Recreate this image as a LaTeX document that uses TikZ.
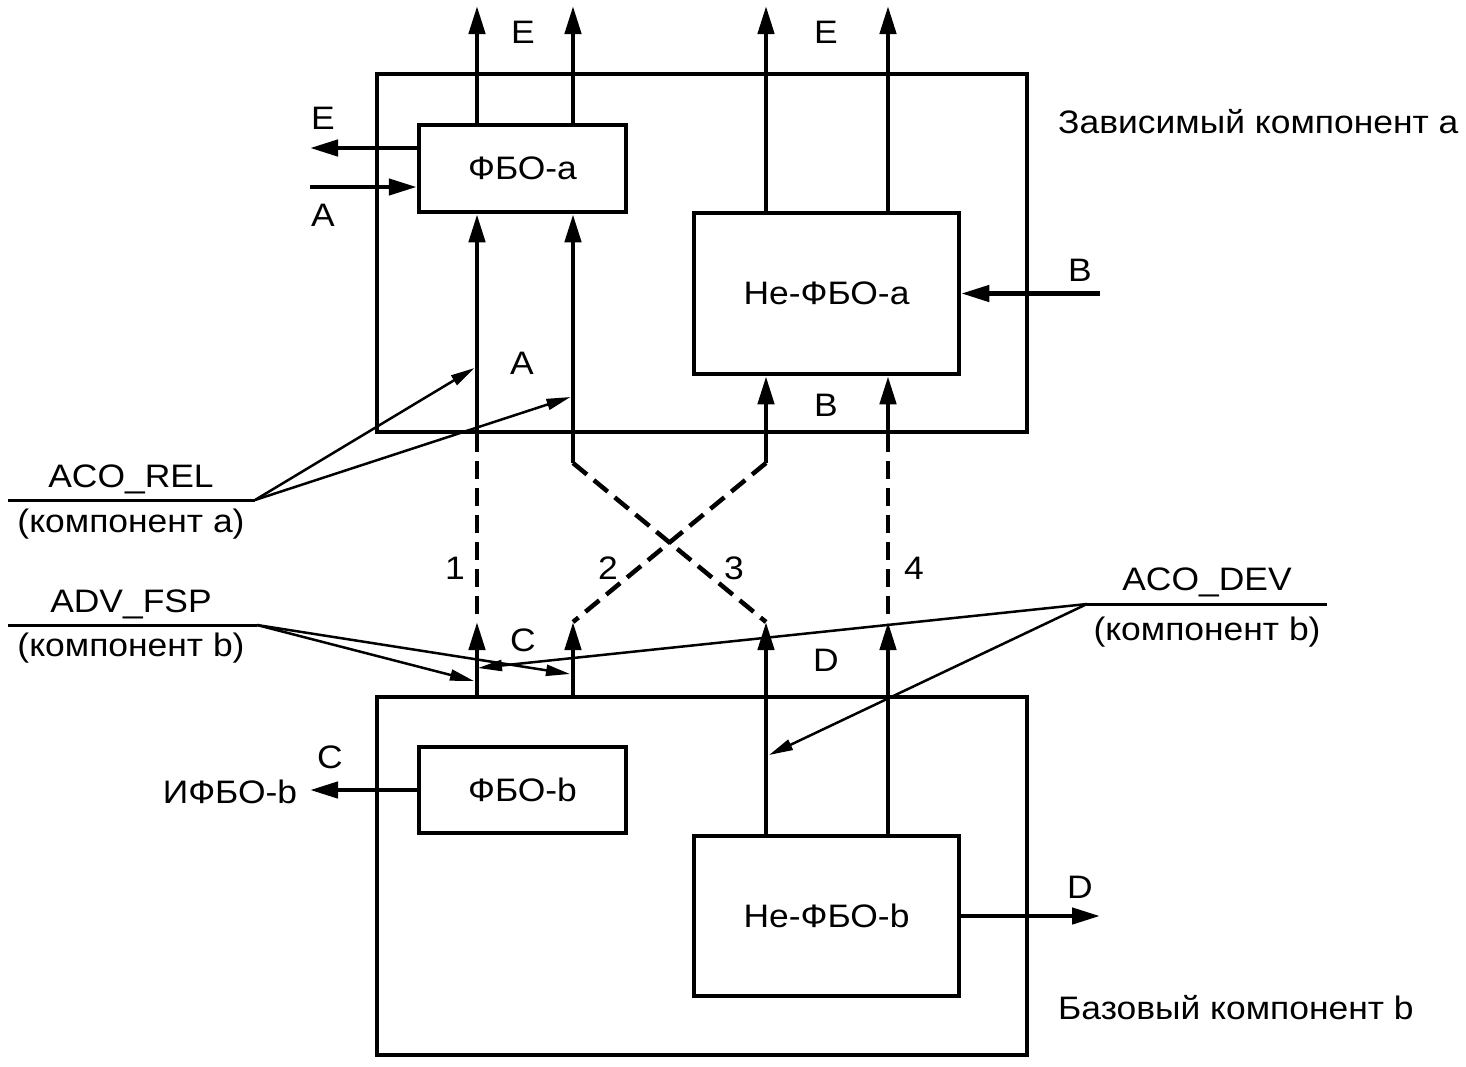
\documentclass[tikz,border=0pt]{standalone}
\usepackage{fontspec}
\setmainfont{Liberation Sans}[FakeStretch=1.09]
\usetikzlibrary{arrows.meta}
\begin{document}
\begin{tikzpicture}[x=1pt,y=-1pt,
  every node/.style={font=\fontsize{32.5}{38}\selectfont, inner sep=0pt},
  box/.style={draw, line width=4.5pt, inner sep=0pt},
  heavy/.style={line width=4.5pt},
  harrow/.style={heavy, -{Triangle[length=28pt,width=16pt]}},
  thinarrow/.style={line width=2.5pt, -{Triangle[length=24pt,width=11pt]}},
  uline/.style={line width=3pt},
  dashline/.style={heavy, dash pattern=on 18pt off 9pt}]
\useasboundingbox (0,0) rectangle (1466,1066);

% boxes
\node[box, minimum width=650pt, minimum height=358pt] (compa) at (702,253) {};
\node[box, minimum width=207pt, minimum height=87pt] (fboa) at (522.5,168.5) {ФБО-а};
\node[box, minimum width=265pt, minimum height=161pt] (nfboa) at (826.5,293.5) {Не-ФБО-а};
\node[box, minimum width=650pt, minimum height=358pt] (compb) at (702,876) {};
\node[box, minimum width=207pt, minimum height=86pt] (fbob) at (522.5,790) {ФБО-b};
\node[box, minimum width=265pt, minimum height=160pt] (nfbob) at (826.5,916) {Не-ФБО-b};

% free ends
\coordinate (e1) at (477,6);
\coordinate (e2) at (573,6);
\coordinate (e3) at (766,6);
\coordinate (e4) at (888,6);
\coordinate (eL) at (310,148);
\coordinate (aL) at (310,187);
\coordinate (bR) at (1100,293.5);
\coordinate (k2) at (573,463);
\coordinate (k3) at (766,463);
\coordinate (t1) at (477,622);
\coordinate (t2) at (573,622);
\coordinate (t3) at (766,622);
\coordinate (t4) at (888,622);
\coordinate (d1) at (477,617);
\coordinate (d4) at (888,617);
\coordinate (iL) at (310,790);
\coordinate (dR) at (1100,916);

% top outputs
\draw[harrow] (fboa.north -| e1) -- (e1);
\draw[harrow] (fboa.north -| e2) -- (e2);
\draw[harrow] (nfboa.north -| e3) -- (e3);
\draw[harrow] (nfboa.north -| e4) -- (e4);
\draw[harrow] (fboa.west |- eL) -- (eL);
\draw[harrow] (aL) -- (fboa.west |- aL);
\draw[harrow] (bR) -- (nfboa.east);

% inputs from below
\draw[harrow] (compa.south -| e1) -- (fboa.south -| e1);
\draw[harrow] (k2) -- (fboa.south -| k2);
\draw[harrow] (k3) -- (nfboa.south -| k3);
\draw[harrow] (compa.south -| e4) -- (nfboa.south -| e4);

% dashed links
\draw[dashline] (compa.south -| e1) -- (d1);
\draw[dashline] (k2) -- (t3);
\draw[dashline] (k3) -- (t2);
\draw[dashline] (compa.south -| e4) -- (d4);

% bottom outputs up
\draw[harrow] (compb.north -| t1) -- (t1);
\draw[harrow] (compb.north -| t2) -- (t2);
\draw[harrow] (nfbob.north -| t3) -- (t3);
\draw[harrow] (nfbob.north -| t4) -- (t4);
\draw[harrow] (fbob.west) -- (iL);
\draw[harrow] (nfbob.east) -- (dR);

% labels
\node (lE1) at (523,32) {E};
\node (lE2) at (826,32) {E};
\node (lE3) at (323,118) {E};
\node (lA1) at (323,215) {A};
\node (lB1) at (1080,270) {B};
\node (lA2) at (522,363) {A};
\node (lB2) at (826,405) {B};
\node (n1) at (455,568) {1};
\node (n2) at (608,568) {2};
\node (n3) at (734,568) {3};
\node (n4) at (914,568) {4};
\node (lC1) at (523,640) {C};
\node (lD1) at (826,660) {D};
\node (lC2) at (330,757) {C};
\node (lI) at (230,792) {ИФБО-b};
\node (lD2) at (1080,887) {D};
\node[anchor=west] (ta) at (1058,122) {Зависимый компонент а};
\node[anchor=west] (tb) at (1058,1008) {Базовый компонент b};

% ACO_REL
\coordinate (relL) at (8,500);
\coordinate (relR) at (255,500);
\coordinate (relA) at (474.5,368);
\coordinate (relB) at (570.5,397);
\draw[uline] (relL) -- (relR);
\node[anchor=base] (rel1) at (131,487) {ACO\_REL};
\node[anchor=base] (rel2) at (131,532) {(компонент а)};
\draw[thinarrow] (relR) -- (relA);
\draw[thinarrow] (relR) -- (relB);

% ADV_FSP
\coordinate (advL) at (8,625);
\coordinate (advR) at (257,625);
\coordinate (advA) at (474,681);
\coordinate (advB) at (570,674);
\draw[uline] (advL) -- (advR);
\node[anchor=base] (adv1) at (131,612) {ADV\_FSP};
\node[anchor=base] (adv2) at (131,656) {(компонент b)};
\draw[thinarrow] (advR) -- (advA);
\draw[thinarrow] (advR) -- (advB);

% ACO_DEV
\coordinate (devL) at (1087,604);
\coordinate (devR) at (1327,604);
\coordinate (devA) at (478,668);
\coordinate (devB) at (769,755);
\draw[uline] (devL) -- (devR);
\node[anchor=base] (dev1) at (1207,590) {ACO\_DEV};
\node[anchor=base] (dev2) at (1207,640) {(компонент b)};
\draw[thinarrow] (devL) -- (devA);
\draw[thinarrow] (devL) -- (devB);
\end{tikzpicture}
\end{document}
